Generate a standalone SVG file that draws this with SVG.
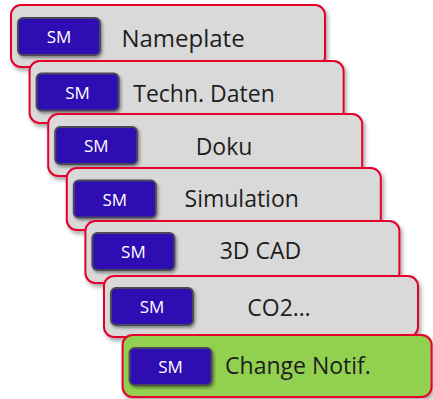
<svg xmlns="http://www.w3.org/2000/svg" width="433" height="399" viewBox="0 0 433 399">
  <defs>
    <filter id="sh" x="-10%" y="-10%" width="130%" height="140%">
      <feDropShadow dx="2" dy="3" stdDeviation="2" flood-color="#000" flood-opacity="0.35"/>
    </filter>
    <filter id="sh2" x="-10%" y="-10%" width="130%" height="140%">
      <feDropShadow dx="1.5" dy="2" stdDeviation="1.5" flood-color="#000" flood-opacity="0.4"/>
    </filter>
  </defs>
  <style>
    .card { fill: #D9D9D9; stroke: #E5002D; stroke-width: 2; filter: url(#sh); }
    .card.green { fill: #92D050; }
    .sm { fill: #2F0DB2; stroke: #4A4A58; stroke-width: 2; filter: url(#sh2); }
    .smt { font-family: "Open Sans", "Noto Sans", sans-serif; font-size: 17px; fill: #FFFFFF; text-anchor: middle; }
    .lbl { font-family: "Open Sans", "Noto Sans", sans-serif; font-size: 23px; fill: #1E1E1E; text-anchor: middle; }
  </style>
  <rect width="433" height="399" fill="#FFFFFF"/>
  <g id="connectors"/>
  <g id="n1">
    <rect class="card" x="11" y="5" width="314" height="62" rx="10"/>
    <rect class="sm" x="18" y="18" width="82" height="37" rx="5"/>
    <text class="smt" x="59" y="43">SM</text>
    <text class="lbl" x="183" y="47" style="font-size:24px">Nameplate</text>
  </g>
  <g id="n2">
    <rect class="card" x="29.6" y="61" width="314" height="62" rx="10"/>
    <rect class="sm" x="36.6" y="73.5" width="82" height="37" rx="5"/>
    <text class="smt" x="77.6" y="98.5">SM</text>
    <text class="lbl" x="204" y="101.7">Techn. Daten</text>
  </g>
  <g id="n3">
    <rect class="card" x="48.2" y="114" width="314" height="62" rx="10"/>
    <rect class="sm" x="55.2" y="127" width="82" height="37" rx="5"/>
    <text class="smt" x="96.2" y="152">SM</text>
    <text class="lbl" x="224" y="155">Doku</text>
  </g>
  <g id="n4">
    <rect class="card" x="66.8" y="168" width="314" height="62" rx="10"/>
    <rect class="sm" x="73.8" y="180.5" width="82" height="37" rx="5"/>
    <text class="smt" x="114.8" y="205.5">SM</text>
    <text class="lbl" x="241.7" y="207.3">Simulation</text>
  </g>
  <g id="n5">
    <rect class="card" x="85.4" y="221" width="314" height="62" rx="10"/>
    <rect class="sm" x="92.4" y="233" width="82" height="37" rx="5"/>
    <text class="smt" x="133.4" y="258">SM</text>
    <text class="lbl" x="260.5" y="259.3">3D CAD</text>
  </g>
  <g id="n6">
    <rect class="card" x="104" y="276" width="314" height="61" rx="10"/>
    <rect class="sm" x="111" y="288" width="82" height="37" rx="5"/>
    <text class="smt" x="152" y="313">SM</text>
    <text class="lbl" x="279" y="316">CO2…</text>
  </g>
  <g id="n7">
    <rect class="card green" x="122.6" y="335" width="309" height="62" rx="10"/>
    <rect class="sm" x="129.6" y="348" width="82" height="37" rx="5"/>
    <text class="smt" x="170.6" y="373">SM</text>
    <text class="lbl" x="298" y="374.3">Change Notif.</text>
  </g>
</svg>
